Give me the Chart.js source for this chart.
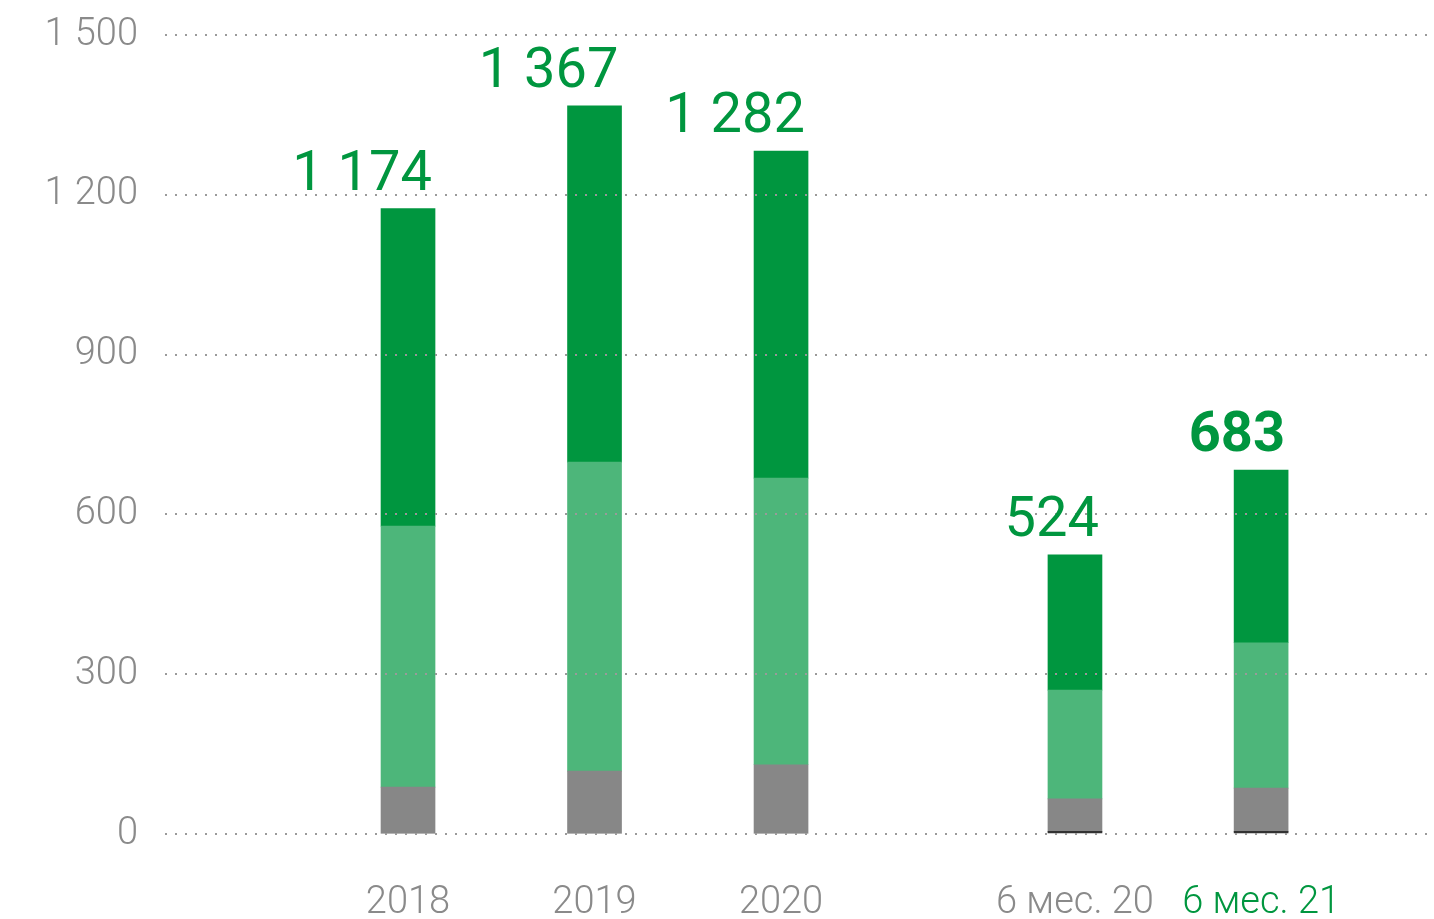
<!DOCTYPE html>
<html>
<head>
<meta charset="utf-8">
<script src="https://cdn.jsdelivr.net/npm/chart.js@4"></script>
<style>
  html, body { margin: 0; padding: 0; background: #fff; }
  #wrap { width: 1434px; height: 919px; position: relative; }
</style>
</head>
<body>
<div id="wrap"><canvas id="barChart"></canvas></div>
<script>
// periods on the x axis
const periods = ["2018", "2019", "2020", "6 мес. 20", "6 мес. 21"];
// stacked pieces, bottom to top
const darkGreyPart = [0, 0, 0, 5, 5];
const greyPart = [88, 118, 130, 61, 81];
const lightGreenPart = [490, 580, 538, 204, 273];
const greenPart = [596, 669, 614, 254, 324];
// labels on top of the bars
const totals = [1174, 1367, 1282, 524, 683];
// y axis ticks
const yTicks = [0, 300, 600, 900, 1200, 1500];

// where each period sits on the x scale (half-year bars stand apart)
const xSlots = [0, 1, 2, 3.576, 4.574];

const GREEN = "#00963f";
const GREY_TEXT = "#8a8a8a";

const fmt = (v) => String(v).replace(/\B(?=(\d{3})+(?!\d))/g, " ");

const toPoints = (arr) => arr.map((v, i) => ({ x: xSlots[i], y: v }));

const totalLabels = {
  id: "totalLabels",
  afterDraw(chart) {
    const ctx = chart.ctx;
    const meta = chart.getDatasetMeta(3);
    ctx.save();
    ctx.fillStyle = GREEN;
    ctx.textAlign = "right";
    ctx.textBaseline = "alphabetic";
    meta.data.forEach((bar, i) => {
      const last = i === totals.length - 1;
      ctx.font = (last ? "700 " : "400 ") + "56px Roboto";
      ctx.fillText(fmt(totals[i]), bar.x + bar.width / 2 - 3, bar.y - 19);
    });
    ctx.restore();
  },
};

const canvas = document.getElementById("barChart").getContext("2d");

const barChart = new Chart(canvas, {
  type: "bar",
  data: {
    datasets: [
      { data: toPoints(darkGreyPart), backgroundColor: "#333333" },
      { data: toPoints(greyPart), backgroundColor: "#878787" },
      { data: toPoints(lightGreenPart), backgroundColor: "#4db67a" },
      { data: toPoints(greenPart), backgroundColor: GREEN },
    ],
  },
  options: {
    responsive: true,
    maintainAspectRatio: false,
    animation: false,
    layout: { padding: { top: 35, right: 0, bottom: 0, left: 0 } },
    datasets: { bar: { barThickness: 54, borderWidth: 0 } },
    plugins: {
      legend: { display: false },
      tooltip: { enabled: false },
    },
    scales: {
      x: {
        type: "linear",
        stacked: true,
        offset: false,
        min: -1.303,
        max: 5.501,
        grid: { display: false, drawTicks: false },
        border: { display: false },
        afterBuildTicks: (scale) => {
          scale.ticks = xSlots.map((v) => ({ value: v }));
        },
        afterFit: (scale) => {
          scale.height = 85;
          scale.paddingLeft = 0;
          scale.paddingRight = 0;
        },
        ticks: {
          autoSkip: false,
          maxRotation: 0,
          padding: 47,
          font: { family: "Roboto", size: 38, weight: 300 },
          color: (c) => (c.index === periods.length - 1 ? GREEN : GREY_TEXT),
          callback: (value, index) => periods[index],
        },
      },
      y: {
        stacked: true,
        min: 0,
        max: 1500,
        afterBuildTicks: (scale) => {
          scale.ticks = yTicks.map((v) => ({ value: v }));
        },
        afterFit: (scale) => {
          scale.width = 165;
          scale.paddingTop = 0;
          scale.paddingBottom = 0;
        },
        grid: {
          z: 1,
          color: "#9a9a9a",
          lineWidth: 2,
          drawTicks: false,
        },
        border: { display: false, dash: [2, 8] },
        ticks: {
          padding: 27,
          font: { family: "Roboto", size: 38, weight: 300 },
          color: GREY_TEXT,
          callback: (value) => fmt(value),
        },
      },
    },
  },
  plugins: [totalLabels],
});
</script>
</body>
</html>
